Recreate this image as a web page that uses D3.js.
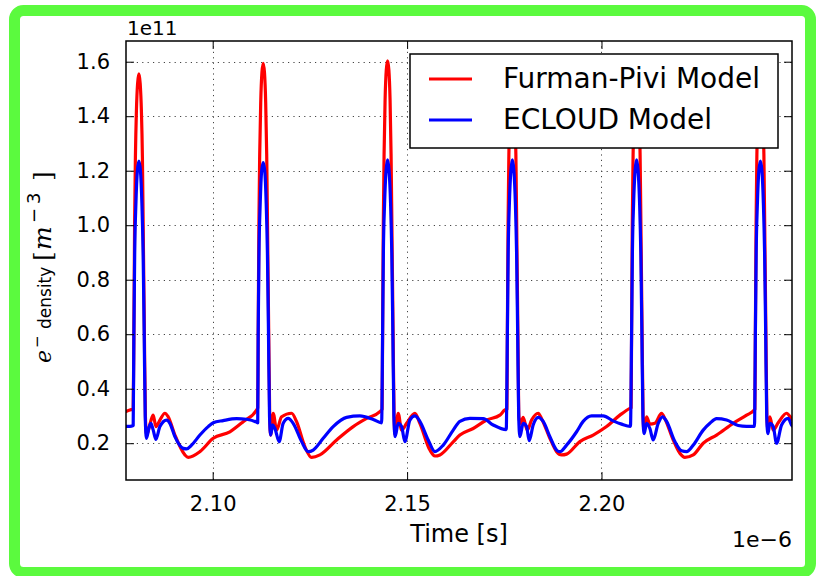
<!DOCTYPE html>
<html><head><meta charset="utf-8">
<script src="https://cdn.jsdelivr.net/npm/d3@7"></script>
<style>html,body{margin:0;padding:0;background:#fff;}svg{display:block;}</style>
</head><body>
<script>
// time in units of 1e-6 s, density in units of 1e11 m^-3
const furmanPivi = [
[2.07768,0.316],[2.07870,0.322],[2.07955,0.325],
[2.07973,0.60],[2.07991,1.00],[2.08012,1.25],[2.08038,1.42],[2.08068,1.52],[2.08102,1.555],[2.08135,1.52],[2.08166,1.42],[2.08192,1.25],[2.08212,1.00],[2.08243,0.60],[2.08269,0.30],[2.08300,0.23],
[2.08403,0.279],[2.08470,0.303],[2.08539,0.261],[2.08642,0.285],[2.08771,0.310],[2.08855,0.297],[2.09028,0.230],[2.09285,0.157],[2.09370,0.148],[2.09671,0.169],[2.10013,0.218],[2.10442,0.242],[2.10784,0.279],[2.11129,0.322],[2.11158,0.330],
[2.11170,0.60],[2.11188,1.00],[2.11209,1.26],[2.11235,1.45],[2.11266,1.56],[2.11299,1.594],[2.11332,1.56],[2.11363,1.45],[2.11389,1.26],[2.11410,1.00],[2.11441,0.60],[2.11466,0.30],[2.11490,0.23],
[2.11556,0.310],[2.11644,0.248],[2.11772,0.297],[2.12029,0.310],[2.12158,0.279],[2.12371,0.187],[2.12544,0.148],[2.12757,0.157],[2.13187,0.212],[2.13614,0.261],[2.13958,0.291],[2.14300,0.316],[2.14357,0.325],
[2.14370,0.60],[2.14388,1.00],[2.14408,1.26],[2.14434,1.46],[2.14465,1.57],[2.14498,1.603],[2.14531,1.57],[2.14562,1.46],[2.14588,1.26],[2.14609,1.00],[2.14640,0.60],[2.14665,0.30],[2.14690,0.23],
[2.14771,0.310],[2.14859,0.248],[2.14987,0.273],[2.15201,0.310],[2.15329,0.273],[2.15586,0.175],[2.15715,0.153],[2.15844,0.157],[2.16186,0.205],[2.16358,0.230],[2.16700,0.254],[2.17045,0.285],[2.17387,0.303],[2.17515,0.322],[2.17567,0.325],
[2.17579,0.60],[2.17597,1.00],[2.17618,1.26],[2.17644,1.46],[2.17675,1.57],[2.17708,1.60],[2.17741,1.57],[2.17772,1.46],[2.17798,1.26],[2.17819,1.00],[2.17850,0.60],[2.17875,0.30],[2.17906,0.27],
[2.17986,0.295],[2.18089,0.248],[2.18202,0.285],[2.18372,0.310],[2.18459,0.290],[2.18673,0.218],[2.18845,0.169],[2.18974,0.157],[2.19102,0.160],[2.19444,0.206],[2.19787,0.230],[2.20131,0.261],[2.20473,0.303],[2.20730,0.328],[2.20761,0.330],
[2.20774,0.60],[2.20792,1.00],[2.20813,1.26],[2.20839,1.46],[2.20870,1.57],[2.20903,1.60],[2.20936,1.57],[2.20967,1.46],[2.20993,1.26],[2.21014,1.00],[2.21045,0.60],[2.21070,0.30],[2.21090,0.25],
[2.21160,0.297],[2.21245,0.270],[2.21373,0.273],[2.21546,0.310],[2.21631,0.290],[2.21844,0.212],[2.22016,0.163],[2.22145,0.148],[2.22359,0.157],[2.22616,0.200],[2.22960,0.230],[2.23387,0.273],[2.23732,0.303],[2.23930,0.322],[2.23945,0.325],
[2.23958,0.60],[2.23976,1.00],[2.23997,1.26],[2.24023,1.46],[2.24054,1.57],[2.24087,1.60],[2.24120,1.57],[2.24151,1.46],[2.24177,1.26],[2.24198,1.00],[2.24229,0.60],[2.24254,0.30],[2.24280,0.25],
[2.24331,0.297],[2.24416,0.248],[2.24545,0.275],[2.24761,0.310],[2.24889,0.290],[2.24920,0.285]
];
const ecloud = [
[2.07768,0.262],[2.07870,0.262],[2.07955,0.265],
[2.07973,0.60],[2.07994,0.90],[2.08025,1.08],[2.08063,1.20],[2.08102,1.235],[2.08141,1.20],[2.08179,1.08],[2.08210,0.90],[2.08238,0.60],[2.08264,0.30],[2.08295,0.218],
[2.08367,0.261],[2.08410,0.273],[2.08470,0.248],[2.08539,0.214],[2.08642,0.261],[2.08814,0.285],[2.08899,0.273],[2.09028,0.224],[2.09241,0.181],[2.09329,0.179],[2.09457,0.193],[2.09671,0.230],[2.09884,0.261],[2.10013,0.275],[2.10270,0.283],[2.10615,0.290],[2.10872,0.288],[2.11145,0.276],[2.11158,0.275],
[2.11170,0.60],[2.11191,0.90],[2.11222,1.08],[2.11260,1.20],[2.11299,1.23],[2.11338,1.20],[2.11376,1.08],[2.11407,0.90],[2.11435,0.60],[2.11461,0.30],[2.11492,0.23],
[2.11541,0.267],[2.11600,0.254],[2.11710,0.206],[2.11813,0.273],[2.11942,0.291],[2.12070,0.273],[2.12287,0.206],[2.12456,0.169],[2.12585,0.175],[2.12842,0.218],[2.13099,0.261],[2.13444,0.295],[2.13786,0.300],[2.14128,0.287],[2.14345,0.275],
[2.14370,0.60],[2.14390,0.90],[2.14421,1.08],[2.14459,1.20],[2.14498,1.24],[2.14537,1.20],[2.14575,1.08],[2.14606,0.90],[2.14634,0.60],[2.14660,0.30],[2.14691,0.224],
[2.14771,0.273],[2.14859,0.261],[2.14943,0.206],[2.15072,0.285],[2.15201,0.300],[2.15329,0.280],[2.15543,0.212],[2.15715,0.169],[2.15929,0.193],[2.16186,0.248],[2.16358,0.280],[2.16615,0.291],[2.16957,0.290],[2.17215,0.267],[2.17550,0.250],
[2.17579,0.60],[2.17600,0.90],[2.17631,1.08],[2.17669,1.20],[2.17708,1.24],[2.17747,1.20],[2.17785,1.08],[2.17816,0.90],[2.17844,0.60],[2.17870,0.30],[2.17901,0.224],
[2.17986,0.273],[2.18074,0.261],[2.18140,0.209],[2.18243,0.267],[2.18372,0.295],[2.18501,0.280],[2.18673,0.224],[2.18845,0.175],[2.18930,0.169],[2.19102,0.193],[2.19360,0.242],[2.19529,0.280],[2.19745,0.300],[2.20044,0.300],[2.20301,0.282],[2.20517,0.270],[2.20745,0.262],
[2.20774,0.60],[2.20795,0.90],[2.20826,1.08],[2.20864,1.20],[2.20903,1.24],[2.20942,1.20],[2.20980,1.08],[2.21011,0.90],[2.21039,0.60],[2.21065,0.30],[2.21096,0.235],
[2.21160,0.273],[2.21245,0.254],[2.21330,0.212],[2.21458,0.273],[2.21571,0.297],[2.21674,0.280],[2.21888,0.206],[2.22060,0.172],[2.22189,0.169],[2.22359,0.193],[2.22616,0.248],[2.22788,0.273],[2.22960,0.290],[2.23218,0.285],[2.23516,0.265],[2.23732,0.262],[2.23935,0.262],
[2.23958,0.60],[2.23979,0.90],[2.24010,1.08],[2.24048,1.20],[2.24087,1.235],[2.24126,1.20],[2.24164,1.08],[2.24195,0.90],[2.24223,0.60],[2.24249,0.30],[2.24280,0.235],
[2.24331,0.273],[2.24416,0.261],[2.24504,0.200],[2.24632,0.267],[2.24802,0.291],[2.24889,0.267],[2.24920,0.262]
];
const xTicks = [2.10, 2.15, 2.20];
const yTicks = [0.2, 0.4, 0.6, 0.8, 1.0, 1.2, 1.4, 1.6];
const xDomain = [2.0777, 2.2490];
const yDomain = [0.065, 1.676];
const seriesNames = ["Furman-Pivi Model", "ECLOUD Model"];
const seriesColors = ["#ff0000", "#0000ff"];
const xOffsetLabel = "1e\u22126";
const yOffsetLabel = "1e11";
const xLabel = "Time [s]";

const W = 820, H = 576;
const L = 126, R = 792, T = 41, B = 480;
const svg = d3.select("body").append("svg").attr("width", W).attr("height", H);
svg.append("rect").attr("width", W).attr("height", H).attr("fill", "#fff");

const x = d3.scaleLinear().domain(xDomain).range([L, R]);
const y = d3.scaleLinear().domain(yDomain).range([B, T]);

// grid
const grid = svg.append("g").attr("stroke", "#444").attr("stroke-width", 1).attr("stroke-dasharray", "1.2,4.2");
grid.selectAll(".gx").data(xTicks).enter().append("line")
  .attr("x1", d => Math.round(x(d)) + 0.5).attr("x2", d => Math.round(x(d)) + 0.5).attr("y1", T).attr("y2", B);
grid.selectAll(".gy").data(yTicks).enter().append("line")
  .attr("y1", d => Math.round(y(d)) + 0.5).attr("y2", d => Math.round(y(d)) + 0.5).attr("x1", L).attr("x2", R);

// lines
svg.append("clipPath").attr("id", "clip").append("rect").attr("x", L).attr("y", T).attr("width", R - L).attr("height", B - T);
const lg = d3.line().x(d => x(d[0])).y(d => y(d[1])).curve(d3.curveMonotoneX);
const plot = svg.append("g").attr("clip-path", "url(#clip)");
[furmanPivi, ecloud].forEach((s, i) => {
  plot.append("path").attr("d", lg(s)).attr("fill", "none").attr("stroke", seriesColors[i])
    .attr("stroke-width", 3.2).attr("stroke-linejoin", "round").attr("stroke-linecap", "round");
});

// axes (inward ticks on all sides)
const tickLen = 8;
const fontMain = "DejaVu Sans, sans-serif";
const axB = d3.axisBottom(x).tickValues(xTicks).tickSizeInner(-tickLen).tickSizeOuter(0).tickPadding(16).tickFormat(d3.format(".2f"));
const axT = d3.axisTop(x).tickValues(xTicks).tickSizeInner(-tickLen).tickSizeOuter(0).tickFormat("");
const axL = d3.axisLeft(y).tickValues(yTicks).tickSizeInner(-tickLen).tickSizeOuter(0).tickPadding(16).tickFormat(d3.format(".1f"));
const axR = d3.axisRight(y).tickValues(yTicks).tickSizeInner(-tickLen).tickSizeOuter(0).tickFormat("");
function style(g) {
  g.select(".domain").remove();
  g.selectAll(".tick line").attr("stroke", "#000").attr("stroke-width", 1);
  g.selectAll(".tick text").attr("fill", "#000").attr("font-family", fontMain).attr("font-size", 21);
}
svg.append("g").attr("transform", `translate(0,${B})`).call(axB).call(style);
svg.append("g").attr("transform", `translate(0,${T})`).call(axT).call(style);
svg.append("g").attr("transform", `translate(${L},0)`).call(axL).call(style);
svg.append("g").attr("transform", `translate(${R},0)`).call(axR).call(style);

// frame
svg.append("rect").attr("x", L).attr("y", T).attr("width", R - L).attr("height", B - T)
  .attr("fill", "none").attr("stroke", "#000").attr("stroke-width", 1.5);

// offset labels
svg.append("text").attr("x", L + 1).attr("y", 35).attr("font-family", fontMain).attr("font-size", 20).text(yOffsetLabel);
svg.append("text").attr("x", R).attr("y", 547).attr("text-anchor", "end").attr("font-family", fontMain).attr("font-size", 22).text(xOffsetLabel);

// x label
svg.append("text").attr("x", (L + R) / 2).attr("y", 542).attr("text-anchor", "middle").attr("font-family", fontMain).attr("font-size", 24).text(xLabel);

// y label (rotated; pieces placed along the axis, reading bottom to top)
const yLabelParts = [
  { t: "e", pos: 363, shift: 0, size: 22, fam: "DejaVu Serif", it: true },
  { t: "\u2212", pos: 348, shift: -9, size: 15, fam: fontMain, it: false },
  { t: "density", pos: 329, shift: 0, size: 17, fam: fontMain, it: false },
  { t: "[", pos: 261, shift: 0, size: 25, fam: "DejaVu Serif", it: false },
  { t: "m", pos: 250, shift: 0, size: 25, fam: "DejaVu Serif", it: true },
  { t: "\u2212", pos: 223, shift: -11, size: 18, fam: fontMain, it: false },
  { t: "3", pos: 204, shift: -11, size: 18, fam: fontMain, it: false },
  { t: "]", pos: 181, shift: 0, size: 25, fam: "DejaVu Serif", it: false }
];
const ylg = svg.append("g");
yLabelParts.forEach(p => {
  ylg.append("text").attr("transform", `translate(${51 + p.shift},${p.pos}) rotate(-90)`)
    .attr("font-family", p.fam).attr("font-style", p.it ? "italic" : "normal").attr("font-size", p.size)
    .attr("fill", "#000").text(p.t);
});

// legend
const leg = svg.append("g");
leg.append("rect").attr("x", 410).attr("y", 54).attr("width", 368).attr("height", 94)
  .attr("fill", "#fff").attr("stroke", "#000").attr("stroke-width", 1.5);
seriesNames.forEach((n, i) => {
  const yy = 79 + i * 41;
  leg.append("line").attr("x1", 429).attr("x2", 472).attr("y1", yy).attr("y2", yy)
    .attr("stroke", seriesColors[i]).attr("stroke-width", 3);
  leg.append("text").attr("x", 503).attr("y", yy + 9).attr("font-family", fontMain).attr("font-size", 28).text(n);
});

// outer green frame
svg.append("rect").attr("x", 14.5).attr("y", 10.5).attr("width", 796).attr("height", 562).attr("rx", 9)
  .attr("fill", "none").attr("stroke", "#5bfa3e").attr("stroke-width", 11);
</script>
</body></html>
